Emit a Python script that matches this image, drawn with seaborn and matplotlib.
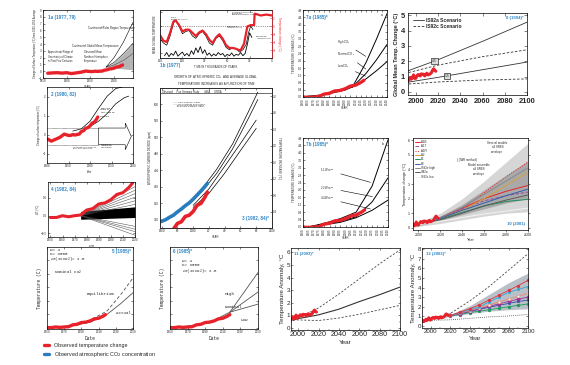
import numpy as np
import pandas as pd
import matplotlib
matplotlib.use("Agg")
import matplotlib.pyplot as plt
import seaborn as sns
from matplotlib.lines import Line2D

# ---------------------------------------------------------------- data
obs_years = list(range(1970, 2019))
obs_temp = [0.03, -0.08, 0.01, 0.16, -0.07, -0.01, -0.10, 0.18, 0.07, 0.16,
            0.26, 0.32, 0.14, 0.31, 0.16, 0.12, 0.18, 0.32, 0.39, 0.27,
            0.45, 0.41, 0.22, 0.23, 0.31, 0.45, 0.33, 0.46, 0.61, 0.38,
            0.39, 0.54, 0.63, 0.62, 0.54, 0.68, 0.64, 0.66, 0.54, 0.65,
            0.72, 0.61, 0.64, 0.68, 0.75, 0.90, 1.01, 0.92, 0.85]
smooth_years = [1860, 1870, 1880, 1890, 1900, 1910, 1920, 1930, 1940, 1950, 1955,
                1960, 1965, 1970, 1975, 1980, 1985, 1990, 1995, 2000, 2005, 2010,
                2015, 2018]
smooth_temp = [-0.30, -0.25, -0.22, -0.28, -0.22, -0.35, -0.25, -0.15, 0.02, -0.05,
               -0.05, 0.00, -0.03, 0.00, 0.02, 0.16, 0.20, 0.33, 0.36, 0.45, 0.60,
               0.65, 0.80, 0.92]
co2_years = [1958, 1965, 1970, 1975, 1980, 1985, 1990, 1995, 2000, 2005, 2010, 2015, 2018]
co2_ppm = [315, 320, 326, 331, 339, 346, 354, 361, 370, 380, 390, 401, 408]

# panel 1a
p1a_years = [1983, 2000, 2020, 2040]
p1a_polar = [0.6, 2.0, 4.3, 7.2]
p1a_env_high = [0.6, 1.3, 2.6, 4.1]
p1a_env_low = [0.6, 0.5, 0.35, 0.2]
p1a_mid = [0.6, 0.9, 1.6, 2.6]
# panel 1b (relative units)
p1b_x = [0, 3, 6, 9, 12, 14, 17, 20, 23, 26, 29, 32, 35, 38, 41, 44, 47, 50, 53, 56,
         59, 62, 65, 68, 71, 74, 77, 79, 81, 83]
p1b_black = [0.42, 0.33, 0.28, 0.48, 0.76, 0.83, 0.70, 0.53, 0.58, 0.60, 0.48, 0.43,
             0.53, 0.58, 0.48, 0.33, 0.28, 0.43, 0.48, 0.38, 0.23, 0.18, 0.23, 0.20,
             0.13, 0.18, 0.30, 0.55, 0.70, 0.62]
p1b_red_x = [0, 3, 6, 9, 12, 14, 17, 20, 23, 26, 29, 32, 35, 38, 41, 44, 47, 50, 53, 56,
             59, 62, 65, 68, 71, 72, 75, 78, 81, 84, 84.5, 86, 90, 95, 100]
p1b_red = [0.50, 0.38, 0.35, 0.55, 0.80, 0.82, 0.72, 0.58, 0.62, 0.62, 0.55, 0.48, 0.56,
           0.60, 0.52, 0.40, 0.33, 0.45, 0.52, 0.42, 0.28, 0.22, 0.22, 0.20, 0.17, 0.17,
           0.31, 0.69, 0.72, 0.72, 0.97, 0.96, 0.93, 0.95, 0.93]
p1b_noise_x = [4, 6, 8, 10, 12, 14, 16, 18, 20, 22, 24, 26, 28, 30, 32, 34, 36, 38, 40,
               42, 44, 46, 48, 50, 52, 54, 56, 58, 60, 62, 64, 66, 68, 70, 72, 74, 76,
               78, 80, 82]
p1b_noise = [0.05, 0.12, 0.03, 0.10, 0.06, 0.15, 0.04, 0.09, 0.13, 0.05, 0.10, 0.04,
             0.16, 0.08, 0.22, 0.12, 0.25, 0.10, 0.18, 0.06, 0.11, 0.04, 0.09, 0.05,
             0.12, 0.07, 0.10, 0.03, 0.08, 0.05, 0.11, 0.04, 0.08, 0.06, 0.12, 0.05,
             0.10, 0.30, 0.55, 0.45]
# panel 2
p2_upper_years = [1960, 1980, 2000, 2020, 2040, 2060, 2075]
p2_upper = [0.18, 0.30, 0.70, 1.38, 2.02, 2.42, 2.50]
p2_lower_years = [2000, 2020, 2040, 2060, 2080, 2090]
p2_lower = [0.42, 0.70, 1.10, 1.62, 1.94, 2.02]
p2_band = [-0.54, 0.34]
# panel 3
p3_co2_years = [2010, 2030, 2050, 2070, 2082]
p3_co2_a = [392, 443, 504, 582, 630]
p3_co2_b = [386, 433, 492, 566, 612]
p3_t_years = [2000, 2020, 2040, 2060, 2080]
p3_t_a = [0.55, 0.95, 1.50, 2.05, 2.62]
p3_t_b = [0.50, 0.84, 1.33, 1.88, 2.42]
# panel 4
p4_fan_years = [1975, 2020]
p4_fan_ends = [-0.55, -0.45, -0.38, -0.30, 0.32, 0.42, 0.52, 0.62, 0.72, 0.82]
p4_band_low = [-0.10, -0.05]
p4_band_high = [0.12, 0.25]
# panel 5
p5_years = [1960, 1980, 2000, 2020, 2035, 2050]
p5_equil = [0.0, 0.20, 0.55, 1.25, 2.40, 3.70]
p5_actual = [0.0, 0.15, 0.40, 1.00, 1.75, 2.60]
# panel 6
p6_base_years = [1958, 1980, 2000, 2018]
p6_base = [0.0, 0.2, 0.55, 1.15]
p6_proj_years = [2018, 2050]
p6_high = [1.15, 4.10]
p6_nominal = [1.15, 2.65]
p6_low = [1.15, 1.75]
# panel 7a
p7a_base_years = [1960, 1975, 1990, 2000, 2007]
p7a_base = [0.02, 0.10, 0.25, 0.38, 0.55]
p7a_proj_years = [2007, 2020, 2030, 2040]
p7a_high = [0.55, 1.9, 3.2, 4.6]
p7a_nominal = [0.55, 1.3, 2.05, 2.9]
p7a_low = [0.55, 1.0, 1.45, 1.95]
# panel 7b
p7b_years = [1965, 1980, 1995, 2010, 2025, 2040]
p7b_top = [0.0, 0.20, 0.45, 0.80, 2.20, 4.70]
p7b_mid = [0.0, 0.15, 0.30, 0.55, 1.35, 2.65]
p7b_low = [0.0, 0.12, 0.25, 0.50, 0.90, 1.45]
# panel 8
p8_years = [1990, 2020, 2060, 2100]
p8_a_high = [1.30, 2.10, 3.30, 4.55]
p8_c_high = [1.20, 1.75, 2.30, 2.75]
p8_a_low = [0.60, 0.95, 1.45, 1.95]
p8_c_low = [0.50, 0.65, 0.78, 0.85]
# panel 10
p10_years = [1990, 2000, 2020, 2040, 2060, 2080, 2100]
p10_light_low = [0.0, 0.10, 0.30, 0.55, 0.80, 1.00, 1.10]
p10_light_high = [0.0, 0.35, 1.00, 2.00, 3.20, 4.50, 5.80]
p10_dark_low = [0.0, 0.15, 0.50, 0.90, 1.30, 1.70, 2.00]
p10_dark_high = [0.0, 0.25, 0.80, 1.60, 2.60, 3.60, 4.60]
p10_names = ["A1B", "A1T", "A1FI", "A2", "B1", "B2", "IS92e high", "IS92a", "IS92c low"]
p10_series = [
    [0, 0.2, 0.70, 1.35, 2.00, 2.50, 2.90],
    [0, 0.2, 0.70, 1.30, 1.85, 2.20, 2.45],
    [0, 0.2, 0.65, 1.35, 2.40, 3.50, 4.50],
    [0, 0.2, 0.60, 1.20, 2.00, 2.90, 3.80],
    [0, 0.2, 0.60, 1.05, 1.50, 1.80, 1.95],
    [0, 0.2, 0.65, 1.20, 1.70, 2.20, 2.65],
    [0, 0.2, 0.70, 1.40, 2.30, 3.20, 4.10],
    [0, 0.2, 0.55, 1.00, 1.50, 1.90, 2.25],
    [0, 0.2, 0.45, 0.70, 0.95, 1.15, 1.35],
]
# panel 11
p11_years = [1995, 2000, 2020, 2040, 2060, 2080, 2100]
p11_upper = [0.60, 0.80, 1.60, 2.70, 3.90, 5.10, 6.20]
p11_mid = [0.65, 0.75, 1.05, 1.50, 2.10, 2.65, 3.25]
p11_lower = [0.65, 0.65, 0.60, 0.80, 1.10, 1.45, 1.80]
# panel 12
p12_years = [1995, 2000, 2020, 2040, 2060, 2080, 2100]
p12_upper = [0.55, 0.70, 1.30, 2.60, 4.10, 5.80, 7.50]
p12_lower = [0.60, 0.60, 0.65, 0.80, 0.95, 1.05, 1.20]
p12_band_years = [2010, 2020, 2040, 2060, 2080, 2100]
p12_band_high = [0.90, 1.20, 2.10, 3.30, 4.50, 5.50]
p12_band_low = [0.85, 1.00, 1.30, 1.55, 1.70, 1.80]
p12_mk_years = [2020, 2030, 2040, 2050, 2060, 2070, 2080, 2090, 2100]
p12_red = [1.10, 1.45, 1.80, 2.20, 2.70, 3.20, 3.70, 4.20, 4.75]
p12_cyan = [1.10, 1.40, 1.70, 2.00, 2.50, 3.00, 3.50, 3.80, 4.10]
p12_salmon = [1.10, 1.35, 1.60, 1.90, 2.20, 2.50, 2.80, 3.10, 3.40]
p12_purple = [1.10, 1.30, 1.55, 1.80, 2.05, 2.30, 2.55, 2.80, 3.00]
p12_blue = [1.10, 1.30, 1.50, 1.75, 1.95, 2.15, 2.35, 2.55, 2.70]
p12_green = [1.05, 1.20, 1.40, 1.55, 1.70, 1.85, 2.00, 2.15, 2.30]

# ---------------------------------------------------------------- style
sns.set_theme(style="ticks")
plt.rcParams['font.family'] = ['Liberation Sans', 'DejaVu Sans']
plt.rcParams['axes.linewidth'] = 0.5
RED = "#e8222b"
BLUE = "#2a7cbd"
LBL = "#2f86c6"
MONO = ['Liberation Mono', 'DejaVu Sans Mono']

W, H = 570, 365
fig = plt.figure(figsize=(W / 100, H / 100), dpi=100)
fig.patch.set_facecolor('white')

smooth = pd.DataFrame({'year': smooth_years, 'temp': smooth_temp})
obs = pd.DataFrame({'year': obs_years, 'temp': obs_temp})


def add_ax(l, t, r, b, size=2.2):
    ax = fig.add_axes([l / W, 1 - b / H, (r - l) / W, (b - t) / H])
    ax.set_facecolor('white')
    for s in ax.spines.values():
        s.set_linewidth(0.5)
        s.set_color('black')
    ax.tick_params(labelsize=size, length=1.2, width=0.4, pad=0.8, direction='in',
                   top=True, right=True)
    return ax


def line(ax, x, y, **kw):
    sns.lineplot(x=list(x), y=list(y), ax=ax, estimator=None, sort=False, legend=False, **kw)


def plabel(ax, txt, x, y, ha='left', va='top', size=3.3):
    ax.text(x, y, txt, transform=ax.transAxes, ha=ha, va=va, fontsize=size,
            color=LBL, fontweight='bold')


def tiny(ax, x, y, txt, size=2.0, **kw):
    ax.text(x, y, txt, transform=ax.transAxes, fontsize=size, **kw)

# ---------------------------------------------------------------- 1a
ax = add_ax(43, 10, 133, 78)
ax.fill_between(p1a_years, p1a_env_low, p1a_env_high, color='#b5b5b5', lw=0)
line(ax, p1a_years, p1a_mid, color='#555555', linewidth=0.4)
line(ax, p1a_years, p1a_env_high, color='black', linewidth=0.4)
line(ax, p1a_years, p1a_polar, color='black', linewidth=0.4)
s = smooth[smooth.year >= 1860]
line(ax, s.year, s.temp, color=RED, linewidth=2.4)
ax.set_xlim(1850, 2040)
ax.set_ylim(-1, 9)
ax.set_xticks([1850, 1900, 1950, 2000])
ax.set_yticks(range(-1, 10))
ax.set_xlabel('YEAR', fontsize=2, labelpad=1)
ax.set_ylabel('Change of Surface Temperature (°C) from 1900-1950 Average', fontsize=1.8, labelpad=1)
tiny(ax, 0.50, 0.72, 'Continental/Polar Region Temperature')
tiny(ax, 0.32, 0.46, 'Continental Global Mean Temperature')
tiny(ax, 0.06, 0.23, 'Approximate Range of\nUncertainty of Climate\nin Past Few Centuries', size=1.8)
tiny(ax, 0.46, 0.23, 'Observed Mean\nNorthern Hemisphere\nTemperature', size=1.8)
plabel(ax, '1a (1977, 79)', 0.05, 0.92)

# ---------------------------------------------------------------- 1b
ax = add_ax(160, 10, 272, 58)
line(ax, p1b_noise_x, p1b_noise, color='black', linewidth=0.6)
line(ax, p1b_x, p1b_black, color='black', linewidth=0.5)
line(ax, p1b_red_x, p1b_red, color=RED, linewidth=1.6)
ax.axhline(0.7, color='#444444', lw=0.4, ls=(0, (2, 2)))
ax.set_xlim(0, 100)
ax.set_ylim(0, 1.05)
ax.set_xticks([0, 20, 40, 60, 80, 100])
ax.set_xticklabels(['150', '120', '90', '60', '30', '0'])
ax.set_yticks([0.1, 0.4, 0.7, 1.0])
ax.set_yticklabels(['', '', '', ''])
ax.tick_params(right=False)
ax.set_xlabel('TIME IN THOUSANDS OF YEARS', fontsize=2, labelpad=1)
ax.set_ylabel('MEAN GLOBAL TEMPERATURE', fontsize=1.8, labelpad=1)
axr = ax.twinx()
axr.set_ylim(-8, 4)
axr.set_yticks([-6, -4, -2, 0, 2])
axr.tick_params(labelsize=2, length=1.2, width=0.4, pad=0.8, direction='in', colors=RED)
axr.spines['right'].set_color(RED)
axr.set_ylabel('Temperature change (°C)', fontsize=2.2, color=RED, rotation=270, labelpad=3)
tiny(ax, 0.10, 0.80, 'LAST\nINTERGLACIAL', size=1.7)
tiny(ax, 0.64, 0.97, 'CARBON DIOXIDE\nINDUCED\nSUPERINTERGLACIAL', size=1.7, va='top')
tiny(ax, 0.60, 0.62, 'PREVIOUS\nINTERGLACIAL', size=1.6)
tiny(ax, 0.86, 0.40, 'HOLOCENE\nINTERGLACIAL', size=1.5)
fig.text(160 / W, 1 - 66 / H, '1b (1977)', fontsize=3.3, color=LBL, fontweight='bold', va='center')

# ---------------------------------------------------------------- 3
fig.text(216 / W, 1 - 80 / H, 'GROWTH OF ATMOSPHERIC CO$_2$ AND AVERAGE GLOBAL\n'
         'TEMPERATURE INCREASES AS A FUNCTION OF TIME', fontsize=2.2, ha='center', va='center')
ax = add_ax(160, 88, 272, 228)
c = pd.DataFrame({'year': co2_years, 'ppm': co2_ppm})
line(ax, p3_co2_years, p3_co2_a, color='black', linewidth=0.5)
line(ax, p3_co2_years, p3_co2_b, color='black', linewidth=0.5)
line(ax, c.year, c.ppm, color=BLUE, linewidth=2.6)
ax.set_xlim(1958, 2100)
ax.set_ylim(300, 640)
ax.set_xticks([1960, 1980, 2000, 2020, 2040, 2060, 2080, 2100])
ax.set_xticklabels(['1960', '80', '2000', '20', '40', '60', '80', '2100'])
ax.set_yticks([320, 360, 400, 440, 480, 520, 560, 600])
ax.tick_params(right=False)
ax.set_xlabel('YEAR', fontsize=2, labelpad=1)
ax.set_ylabel('ATMOSPHERIC CARBON DIOXIDE (ppm)', fontsize=2, labelpad=1)
ax.axhline(628, color='black', lw=0.4)
tiny(ax, 0.02, 0.985, 'Observed     Five Germany Study      IIASA      ERDA', size=1.8, va='top')
tiny(ax, 0.12, 0.90, '—— Five Germany Study\n—— No Synthetic Fuels Used\n      and Gas Reserves Same\n      as in Five Germany Study',
     size=1.7, va='top')
axr = ax.twinx()
s = smooth[smooth.year >= 1975]
line(axr, p3_t_years, p3_t_a, color='black', linewidth=0.5)
line(axr, p3_t_years, p3_t_b, color='black', linewidth=0.5)
line(axr, s.year, s.temp - 0.05, color=RED, linewidth=2.6)
axr.set_ylim(0, 3.4)
axr.set_yticks([0.4, 0.8, 1.2, 1.6, 2.0, 2.4, 2.8, 3.2])
axr.tick_params(labelsize=2, length=1.2, width=0.4, pad=0.8, direction='in')
axr.set_ylabel('TEMPERATURE INCREASE (°C)', fontsize=2, rotation=270, labelpad=3)
plabel(ax, '3 (1982, 84)*', 0.97, 0.05, ha='right', va='bottom')

# ---------------------------------------------------------------- 2
ax = add_ax(47, 87, 133, 163)
for yb in p2_band:
    ax.hlines(yb, 1900, 2020, color='black', lw=0.4, ls=(0, (1, 1)))
ax.arrow(2020, (p2_band[0] + p2_band[1]) / 2, 62, 0, width=p2_band[1] - p2_band[0],
         head_width=1.4, head_length=14, fc='white', ec='black', lw=0.4,
         length_includes_head=False)
line(ax, p2_upper_years, p2_upper, color='black', linewidth=0.5)
line(ax, p2_lower_years, p2_lower, color='black', linewidth=0.5)
s = smooth[smooth.year >= 1900]
line(ax, s.year, s.temp, color=RED, linewidth=2.4)
ax.set_xlim(1900, 2100)
ax.set_ylim(-1.5, 2.5)
ax.set_xticks([1900, 1950, 2000, 2050, 2100])
ax.set_yticks([-1, 0, 1, 2])
ax.set_xlabel('Year', fontsize=2, labelpad=1)
ax.set_ylabel('Change of surface temperature (°C)', fontsize=1.8, labelpad=1)
tiny(ax, 0.62, 0.60, 'Expected\nrange of\nCO$_2$-induced\nwarming', size=1.7)
tiny(ax, 0.63, 0.20, 'Range of\nInterglacial\nConditions', size=1.7)
tiny(ax, 0.30, 0.18, 'Temperature variations\nover past centuries', size=1.6)
plabel(ax, '2 (1980, 82)', 0.05, 0.93)

# ---------------------------------------------------------------- 4
ax = add_ax(48, 182, 135, 237)
for e in p4_fan_ends:
    line(ax, p4_fan_years, [0, e], color='#444444', linewidth=0.35)
ax.fill_between(p4_fan_years, p4_band_low, p4_band_high, color='black', lw=0)
s = smooth[smooth.year >= 1950]
line(ax, s.year, s.temp, color=RED, linewidth=2.2)
ax.set_xlim(1948, 2020)
ax.set_ylim(-0.6, 0.95)
ax.set_xticks([1950, 1960, 1970, 1980, 1990, 2000, 2010, 2020])
ax.set_yticks([-0.5, 0, 0.5])
ax.set_xlabel('year', fontsize=2, labelpad=1)
ax.set_ylabel('ΔT (°C)', fontsize=2, labelpad=1)
plabel(ax, '4 (1982, 84)', 0.04, 0.9)

# ---------------------------------------------------------------- 5
ax = add_ax(47, 247, 133, 329)
line(ax, p5_years, p5_equil, color='#555555', linewidth=0.6, linestyle=(0, (4, 2.5)))
line(ax, p5_years, p5_actual, color='#555555', linewidth=0.6)
s = smooth[smooth.year >= 1950]
line(ax, s.year, s.temp + 0.05, color=RED, linewidth=2.4)
ax.set_xlim(1950, 2050)
ax.set_ylim(-0.1, 6)
ax.set_xticks([1950, 1970, 1990, 2010, 2030, 2050])
ax.set_yticks([0, 1, 2, 3, 4, 5])
ax.set_yticklabels([])
ax.set_xlabel('Date', fontsize=3.3, family=MONO, labelpad=1)
ax.set_ylabel('Temperature (C)', fontsize=3.3, family=MONO, labelpad=3)
tiny(ax, 0.03, 0.99, 'W= 4\nK= 3000\nΔT(2xCO$_2$)= 2.5', size=3.0, family=MONO, va='top', linespacing=0.95)
tiny(ax, 0.08, 0.68, 'Nominal CO$_2$', size=3.0, family=MONO)
tiny(ax, 0.46, 0.42, 'Equilibrium', size=3.0, family=MONO)
tiny(ax, 0.80, 0.18, 'Actual', size=3.0, family=MONO)
plabel(ax, '5 (1985)*', 0.97, 0.97, ha='right')

# ---------------------------------------------------------------- 6
ax = add_ax(170, 247, 258, 329)
line(ax, p6_base_years, p6_base, color='#555555', linewidth=0.6)
for v in (p6_high, p6_nominal, p6_low):
    line(ax, p6_proj_years, v, color='#555555', linewidth=0.6)
s = smooth[smooth.year >= 1950]
line(ax, s.year, s.temp + 0.05, color=RED, linewidth=2.4)
ax.set_xlim(1950, 2050)
ax.set_ylim(-0.1, 6)
ax.set_xticks([1950, 1970, 1990, 2010, 2030, 2050])
ax.set_yticks([0, 1, 2, 3, 4, 5])
ax.set_yticklabels([])
ax.set_xlabel('Date', fontsize=3.3, family=MONO, labelpad=1)
ax.set_ylabel('Temperature (C)', fontsize=3.3, family=MONO, labelpad=3)
tiny(ax, 0.14, 0.85, 'W= 4\nK= 3000\nΔT(2xCO$_2$)= 2.5', size=3.0, family=MONO, va='top', linespacing=0.95)
tiny(ax, 0.62, 0.42, 'High', size=3.0, family=MONO)
tiny(ax, 0.62, 0.26, 'Nominal', size=3.0, family=MONO)
tiny(ax, 0.80, 0.10, 'Low', size=3.0, family=MONO)
plabel(ax, '6 (1985)*', 0.03, 0.97)

# ---------------------------------------------------------------- 7a
ax = add_ax(303, 10, 387, 97)
line(ax, p7a_base_years, p7a_base, color='black', linewidth=0.7)
for v in (p7a_high, p7a_nominal, p7a_low):
    line(ax, p7a_proj_years, v, color='black', linewidth=0.7)
s = smooth[smooth.year >= 1960]
line(ax, s.year, s.temp, color=RED, linewidth=2.4)
ax.set_xlim(1960, 2040)
ax.set_ylim(0, 4.8)
ax.set_xticks(list(range(1960, 2041, 5)))
ax.set_xticklabels([str(y) for y in range(1960, 2041, 5)], rotation=90)
ax.set_yticks([i * 0.4 for i in range(13)])
ax.set_yticklabels(['%.1f' % (i * 0.4) for i in range(13)])
ax.set_xlabel('YEAR', fontsize=2, labelpad=1)
ax.set_ylabel('TEMPERATURE CHANGE (°C)', fontsize=2, labelpad=1)
for txt, arr, ty in (('High CO$_2$', p7a_high, 0.62), ('Nominal CO$_2$', p7a_nominal, 0.48),
                     ('Low CO$_2$', p7a_low, 0.34)):
    ax.annotate(txt, xy=(2022, np.interp(2022, p7a_proj_years, arr)), xycoords='data',
                xytext=(0.40, ty), textcoords='axes fraction', fontsize=2,
                arrowprops=dict(arrowstyle='-', lw=0.4, color='black'))
tiny(ax, 0.93, 0.96, 'a', size=2.5, va='top')
plabel(ax, '7a (1985)*', 0.03, 0.94)

# ---------------------------------------------------------------- 7b
ax = add_ax(303, 138, 388, 227)
for v in (p7b_top, p7b_mid, p7b_low):
    line(ax, p7b_years, v, color='black', linewidth=0.7)
s = smooth[smooth.year >= 1960]
line(ax, s.year, s.temp, color=RED, linewidth=2.4)
ax.set_xlim(1960, 2040)
ax.set_ylim(0, 4.8)
ax.set_xticks(list(range(1960, 2041, 5)))
ax.set_xticklabels([str(y) for y in range(1960, 2041, 5)], rotation=90)
ax.set_yticks([i * 0.4 for i in range(13)])
ax.set_yticklabels(['%.1f' % (i * 0.4) for i in range(13)])
ax.set_xlabel('YEAR', fontsize=2, labelpad=1)
ax.set_ylabel('TEMPERATURE CHANGE (°C)', fontsize=2, labelpad=1)
for txt, arr, ty, xx in (('1.1 W m$^{-2}$', p7b_top, 0.62, 2026), ('2.2 W m$^{-2}$', p7b_mid, 0.42, 2028),
                         ('4.4 W m$^{-2}$', p7b_low, 0.30, 2026)):
    ax.annotate(txt, xy=(xx, np.interp(xx, p7b_years, arr)), xycoords='data',
                xytext=(0.20, ty), textcoords='axes fraction', fontsize=2,
                arrowprops=dict(arrowstyle='-', lw=0.4, color='black'))
tiny(ax, 0.93, 0.96, 'b', size=2.5, va='top')
plabel(ax, '7b (1985)*', 0.03, 0.95)

# ---------------------------------------------------------------- 8
ax = add_ax(408, 13, 527, 95, size=5.4)
line(ax, p8_years, p8_a_high, color='#333333', linewidth=0.6)
line(ax, p8_years, p8_c_high, color='#333333', linewidth=0.6, linestyle=(0, (3, 2)))
line(ax, p8_years, p8_a_low, color='#333333', linewidth=0.6)
line(ax, p8_years, p8_c_low, color='#333333', linewidth=0.6, linestyle=(0, (3, 2)))
o = obs[obs.year >= 1990]
line(ax, o.year, o.temp + 0.5, color=RED, linewidth=2.2)
ax.set_xlim(1993, 2100)
ax.set_ylim(-0.2, 5.15)
ax.set_xticks([2000, 2020, 2040, 2060, 2080, 2100])
ax.set_yticks([0, 1, 2, 3, 4, 5])
for t in ax.get_xticklabels() + ax.get_yticklabels():
    t.set_fontweight('bold')
ax.tick_params(pad=2, length=2)
ax.set_ylabel('Global Mean Temp. Change (°C)', fontsize=4.0, fontweight='bold', labelpad=1.5)
for yr, arr, txt in ((2017, p8_a_high, '4.5'), (2028, p8_a_low, '1.5')):
    ax.text(yr, np.interp(yr, p8_years, arr), txt, fontsize=2.4, ha='center', va='center',
            bbox=dict(boxstyle='square,pad=0.25', fc='#dddddd', ec='black', lw=0.4))
ax.legend(handles=[Line2D([0], [0], color='#333333', lw=0.6),
                   Line2D([0], [0], color='#333333', lw=0.6, ls=(0, (3, 2)))],
          labels=['IS92a Scenario', 'IS92c Scenario'], loc='upper left', frameon=False,
          handlelength=2.2, handletextpad=0.5, labelspacing=0.2,
          borderaxespad=0.5, prop={'weight': 'bold', 'size': 3.6})
plabel(ax, '8 (1994)*', 0.97, 0.96, ha='right', size=3.1)

# ---------------------------------------------------------------- 10
ax = add_ax(413, 138, 528, 230, size=2.6)
ax.fill_between(p10_years, p10_light_low, p10_light_high, color='#d6d6d6', lw=0)
ax.fill_between(p10_years, p10_dark_low, p10_dark_high, color='#a9a9a9', lw=0)
p10_styles = [(RED, '-'), ('#9a4aa0', '--'), (RED, ':'), ('#d7a23a', '-'), ('#1f9060', '-'),
              ('#2f5fb0', '-'), ('#8a8a8a', '-'), ('#5a5a5a', '-'), ('#f4f4f4', '-')]
handles = []
for vals, (col, ls) in zip(p10_series, p10_styles):
    line(ax, p10_years, vals, color=col, linewidth=0.7, linestyle=ls)
    handles.append(Line2D([0], [0], color=col, lw=0.7, ls=ls))
o = obs[obs.year >= 1995]
line(ax, o.year, o.temp - 0.2, color=RED, linewidth=2.0)
ax.set_xlim(1995, 2100)
ax.set_ylim(-0.15, 6.15)
ax.set_xticks([2000, 2020, 2040, 2060, 2080, 2100])
ax.set_yticks([0, 1, 2, 3, 4, 5, 6])
ax.tick_params(direction='out', top=False)
ax.set_xlabel('Year', fontsize=2.8, labelpad=1)
ax.set_ylabel('Temperature change (°C)', fontsize=2.8, labelpad=1)
ax.legend(handles=handles, labels=p10_names, loc='upper left', frameon=False, fontsize=2.1,
          handlelength=1.6, handletextpad=0.4, labelspacing=0.12, borderaxespad=0.3)
ax.annotate('Several models\nall SRES\nenvelope', xy=(2082, 4.6), xytext=(2072, 5.5), fontsize=2.1,
            ha='center', va='center', arrowprops=dict(arrowstyle='->', lw=0.3))
ax.annotate('Model ensemble\nall SRES\nenvelope', xy=(2058, 2.9), xytext=(2055, 4.0), fontsize=2.1,
            ha='center', va='center', arrowprops=dict(arrowstyle='->', lw=0.3))
tiny(ax, 0.38, 0.75, '} (TAR method)', size=2.1)
plabel(ax, '10 (2001)', 0.97, 0.04, ha='right', va='bottom', size=3.1)

# ---------------------------------------------------------------- 11
ax = add_ax(291, 248, 400, 330, size=5.2)
line(ax, p11_years, p11_upper, color='#444444', linewidth=0.6, linestyle=(0, (2.5, 2)))
line(ax, p11_years, p11_mid, color='#333333', linewidth=0.8)
line(ax, p11_years, p11_lower, color='#444444', linewidth=0.6, linestyle=(0, (2.5, 2)))
o = obs[obs.year >= 1993]
line(ax, o.year, o.temp + 0.42, color=RED, linewidth=2.2)
ax.set_xlim(1993, 2100)
ax.set_ylim(-0.15, 6.35)
ax.set_xticks([2000, 2020, 2040, 2060, 2080, 2100])
ax.set_yticks([0, 1, 2, 3, 4, 5, 6])
ax.set_xticks(list(range(2000, 2101, 10)), minor=True)
ax.set_yticks([i * 0.5 for i in range(13)], minor=True)
ax.tick_params(which='minor', direction='in', length=0.8, width=0.3, top=True, right=True)
ax.tick_params(axis='y', labelsize=4.5)
ax.set_xlabel('Year', fontsize=4.6, labelpad=1)
ax.set_ylabel('Temperature Anomaly, °C', fontsize=4.5, labelpad=1)
plabel(ax, '11 (2003)*', 0.03, 0.95, size=3.1)

# ---------------------------------------------------------------- 12
ax = add_ax(422, 248, 528, 328, size=4.4)
ax.fill_between(p12_band_years, p12_band_low, p12_band_high, color='#b9c0c8', lw=0)
line(ax, p12_years, p12_upper, color='#444444', linewidth=0.6, linestyle=(0, (2.5, 2)))
line(ax, p12_years, p12_lower, color='#444444', linewidth=0.6, linestyle=(0, (1, 1.5)))
mk = [(p12_green, '#1c9a5a', 'o', '#1c9a5a'), (p12_blue, '#2a4fa0', 's', '#2a4fa0'),
      (p12_purple, '#a0309a', 'D', '#a0309a'), (p12_salmon, '#e88a70', 'o', 'white'),
      (p12_cyan, '#2aa8d8', 's', '#2aa8d8'), (p12_red, '#e0343a', 'o', '#e0343a')]
for vals, col, m, fc in mk:
    line(ax, p12_mk_years, vals, color=col, linewidth=0.6, marker=m, markersize=2.0,
         markerfacecolor=fc, markeredgecolor=col, markeredgewidth=0.4)
o = obs[obs.year >= 1991]
line(ax, o.year, o.temp + 0.25, color=RED, linewidth=2.2)
ax.set_xlim(1991, 2100)
ax.set_ylim(-0.2, 8.1)
ax.set_xticks([2000, 2020, 2040, 2060, 2080, 2100])
ax.set_yticks(list(range(9)))
ax.set_xticks(list(range(2000, 2101, 10)), minor=True)
ax.tick_params(which='minor', direction='in', length=0.8, width=0.3, top=True, right=True)
ax.set_xlabel('Year', fontsize=4.4, labelpad=1)
ax.set_ylabel('Temperature Anomaly, °C', fontsize=4.4, labelpad=1)
plabel(ax, '12 (2003)*', 0.04, 0.95, size=3.1)

# ---------------------------------------------------------------- legend
fig.legend(handles=[Line2D([0], [0], color=RED, lw=2.4), Line2D([0], [0], color=BLUE, lw=2.4)],
           labels=['Observed temperature change', 'Observed atmospheric CO$_2$ concentration'],
           loc='upper left', bbox_to_anchor=(44 / W, 1 - 343 / H), frameon=False, fontsize=3.9,
           handlelength=1.0, handletextpad=0.8, labelspacing=0.35, borderaxespad=0, borderpad=0)

fig.savefig('out.png', dpi=100, facecolor='white')
